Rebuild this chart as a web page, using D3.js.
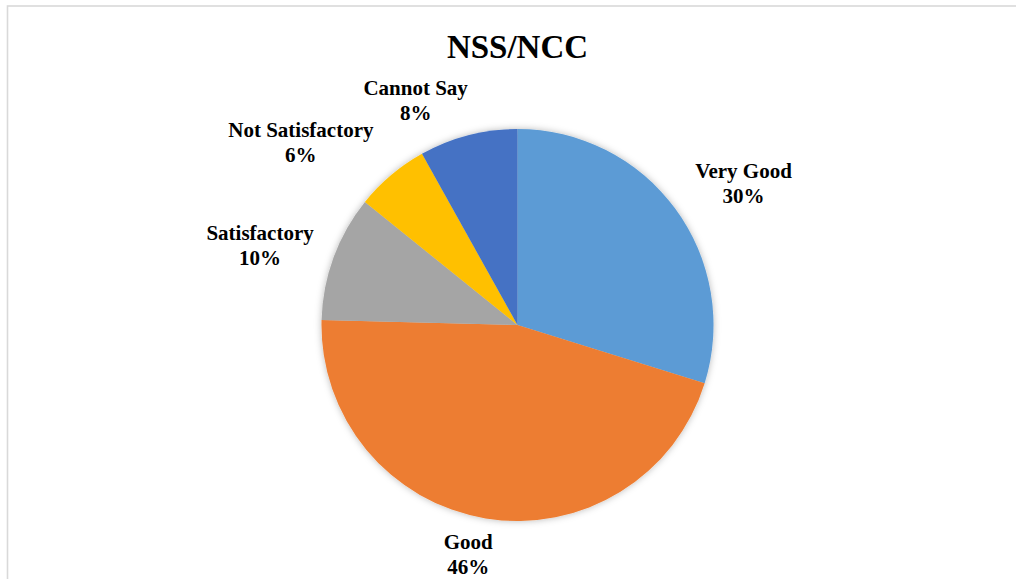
<!DOCTYPE html>
<html>
<head>
<meta charset="utf-8">
<script src="https://cdn.jsdelivr.net/npm/d3@7/dist/d3.min.js"></script>
<style>
  html, body { margin: 0; padding: 0; background: #fff; }
  svg { display: block; }
  text { font-family: "Liberation Serif", "Times New Roman", serif; font-weight: bold; fill: #000; }
</style>
</head>
<body>
<svg id="chart" width="1016" height="579"></svg>
<script>
// ---- data ----
const title = "NSS/NCC";
const categories = ["Very Good", "Good", "Satisfactory", "Not Satisfactory", "Cannot Say"];
const values = [29.8, 45.6, 10.4, 6.1, 8.1];
const colors = ["#5B9BD5", "#ED7D31", "#A5A5A5", "#FFC000", "#4472C4"];
// label placement (polar, relative to pie centre): angle in degrees clockwise from top, distance as factor of radius
const labelAngles = [58.0, 192.1, 287.2, 310.1, 335.6];
const labelDist = [1.36, 1.20, 1.375, 1.445, 1.258];

// ---- layout ----
const W = 1016, H = 579;
const cx = 517.5, cy = 325, R = 196;
const svg = d3.select("#chart");

// chart area border (light gray, extends past right/bottom)
svg.append("rect")
  .attr("x", 7.5).attr("y", 6).attr("width", W + 20).attr("height", H + 20)
  .attr("fill", "#fff").attr("stroke", "#d9d9d9").attr("stroke-width", 1.6);

const defs = svg.append("defs");
const f = defs.append("filter").attr("id", "shadow")
  .attr("x", "-10%").attr("y", "-10%").attr("width", "120%").attr("height", "120%");
f.append("feDropShadow").attr("dx", 0).attr("dy", 0).attr("stdDeviation", 3.5)
  .attr("flood-color", "#000").attr("flood-opacity", 0.28);

// title
svg.append("text")
  .attr("x", cx).attr("y", 58)
  .attr("text-anchor", "middle")
  .style("font-size", "33px")
  .text(title);

const data = categories.map((c, i) => ({ cat: c, value: values[i], color: colors[i], i }));
const pie = d3.pie().value(d => d.value).sort(null);
const arc = d3.arc().innerRadius(0).outerRadius(R);
const arcs = pie(data);

const g = svg.append("g").attr("transform", `translate(${cx},${cy})`);
g.append("g").attr("filter", "url(#shadow)")
  .selectAll("path").data(arcs).join("path")
  .attr("d", arc)
  .attr("fill", d => d.data.color);

// labels
const total = d3.sum(values);
const lab = g.selectAll("g.lab").data(arcs).join("g").attr("class", "lab")
  .attr("transform", d => {
    const a = labelAngles[d.data.i] * Math.PI / 180;
    const r = R * labelDist[d.data.i];
    return `translate(${r * Math.sin(a)},${-r * Math.cos(a)})`;
  });
lab.append("text")
  .attr("text-anchor", "middle").attr("y", -5.5)
  .style("font-size", "21px")
  .text(d => d.data.cat);
lab.append("text")
  .attr("text-anchor", "middle").attr("y", 19.5)
  .style("font-size", "21px")
  .text(d => Math.round(d.data.value / total * 100) + "%");
</script>
</body>
</html>
